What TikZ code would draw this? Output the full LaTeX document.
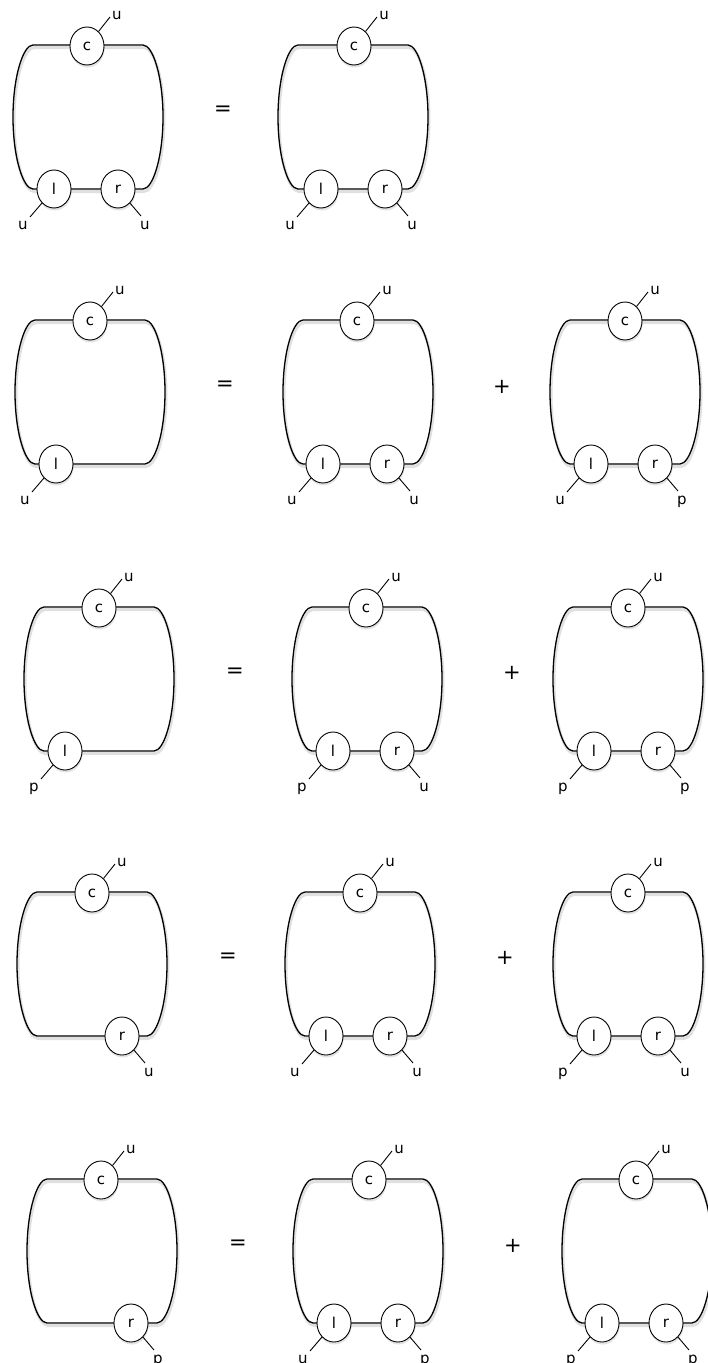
\documentclass[tikz,border=0pt]{standalone}
\usepackage{fontspec}
\setmainfont{DejaVu Sans}
\usetikzlibrary{shapes.geometric,shadows}
\newcommand\lblf{\fontsize{15}{17}\selectfont}
\newcommand\opf{\fontsize{21}{24}\selectfont}
\tikzset{
  vtx/.style={ellipse, draw, fill=white, line width=0.9pt, minimum width=34pt, minimum height=38pt, inner sep=0pt, font=\lblf,
    drop shadow={shadow xshift=0.6pt, shadow yshift=-2.5pt, opacity=0.22}},
  lp/.style={line width=1.3pt, line join=round},
  lpshadow/.style={line width=3pt, black, opacity=0.12},
  stub/.style={line width=0.9pt},
  lab/.style={font=\lblf, inner sep=0pt, anchor=base},
  op/.style={font=\opf, inner sep=0pt},
}
% loop shape: left x, top y
\newcommand\Cyc[2]{%
  \draw[lpshadow, shift={(1,2.5)}] (#1+20,#2) -- (#1+130,#2) .. controls (#1+140,#2) and (#1+150,#2+32) .. (#1+150,#2+72) .. controls (#1+150,#2+112) and (#1+140,#2+144) .. (#1+130,#2+144) -- (#1+20,#2+144) .. controls (#1+10,#2+144) and (#1,#2+112) .. (#1,#2+72) .. controls (#1,#2+32) and (#1+10,#2) .. cycle;
  \draw[lp] (#1+20,#2) -- (#1+130,#2) .. controls (#1+140,#2) and (#1+150,#2+32) .. (#1+150,#2+72) .. controls (#1+150,#2+112) and (#1+140,#2+144) .. (#1+130,#2+144) -- (#1+20,#2+144) .. controls (#1+10,#2+144) and (#1,#2+112) .. (#1,#2+72) .. controls (#1,#2+32) and (#1+10,#2) .. cycle;
}
% top vertex c
\newcommand\Cv[4]{%
  \node[vtx] (#1) at (#2,#3) {c};
  \coordinate (#1e) at (#2+23,#3-29);
  \draw[stub] (#1) -- (#1e);
  \node[lab] (#1t) at (#2+30,#3-26.5) {#4};
}
% bottom-left vertex l
\newcommand\Lv[4]{%
  \node[vtx] (#1) at (#2,#3) {l};
  \coordinate (#1e) at (#2-24,#3+28);
  \draw[stub] (#1) -- (#1e);
  \node[lab] (#1t) at (#2-31,#3+40) {#4};
}
% bottom-right vertex r
\newcommand\Rv[4]{%
  \node[vtx] (#1) at (#2,#3) {r};
  \coordinate (#1e) at (#2+23,#3+27);
  \draw[stub] (#1) -- (#1e);
  \node[lab] (#1t) at (#2+27,#3+40) {#4};
}
\begin{document}
\begin{tikzpicture}[x=1pt,y=-1pt]
\useasboundingbox[fill=white] (0,0) rectangle (707,1363);

% ---------- row 1 ----------
\Cyc{13}{45}
\Cv{aAc}{13+74}{45+1}{u}
\Lv{aAl}{13+41}{45+144}{u}
\Rv{aAr}{13+105}{45+144}{u}
\node[op] (eqA) at (223,111) {=};
\Cyc{278}{45}
\Cv{aBc}{278+76}{45+1}{u}
\Lv{aBl}{278+43}{45+144}{u}
\Rv{aBr}{278+107}{45+144}{u}

% ---------- row 2 ----------
\Cyc{15}{320}
\Cv{bAc}{15+75}{320+1}{u}
\Lv{bAl}{15+41}{320+144}{u}
\node[op] (eqB) at (225,386) {=};
\Cyc{283}{320}
\Cv{bBc}{283+74}{320+1}{u}
\Lv{bBl}{283+40}{320+144}{u}
\Rv{bBr}{283+104}{320+144}{u}
\node[op] (plB) at (502,387) {+};
\Cyc{550}{320}
\Cv{bCc}{550+75}{320+1}{u}
\Lv{bCl}{550+41}{320+144}{u}
\Rv{bCr}{550+105}{320+144}{p}

% ---------- row 3 ----------
\Cyc{24}{607}
\Cv{cAc}{24+75}{607+1}{u}
\Lv{cAl}{24+41}{607+144}{p}
\node[op] (eqC) at (235,673) {=};
\Cyc{292}{607}
\Cv{cBc}{292+74}{607+1}{u}
\Lv{cBl}{292+41}{607+144}{p}
\Rv{cBr}{292+105}{607+144}{u}
\node[op] (plC) at (512,673) {+};
\Cyc{553}{607}
\Cv{cCc}{553+75}{607+1}{u}
\Lv{cCl}{553+41}{607+144}{p}
\Rv{cCr}{553+105}{607+144}{p}

% ---------- row 4 ----------
\Cyc{17}{892}
\Cv{dAc}{17+75}{892+1}{u}
\Rv{dAr}{17+105}{892+144}{u}
\node[op] (eqD) at (228,958) {=};
\Cyc{285}{892}
\Cv{dBc}{285+75}{892+1}{u}
\Lv{dBl}{285+41}{892+144}{u}
\Rv{dBr}{285+105}{892+144}{u}
\node[op] (plD) at (505,958) {+};
\Cyc{553}{892}
\Cv{dCc}{553+75}{892+1}{u}
\Lv{dCl}{553+41}{892+144}{p}
\Rv{dCr}{553+105}{892+144}{u}

% ---------- row 5 ----------
\Cyc{27}{1179}
\Cv{eAc}{27+74}{1179+1}{u}
\Rv{eAr}{27+104}{1179+144}{p}
\node[op] (eqE) at (238,1245) {=};
\Cyc{293}{1179}
\Cv{eBc}{293+76}{1179+1}{u}
\Lv{eBl}{293+41}{1179+144}{u}
\Rv{eBr}{293+105}{1179+144}{p}
\node[op] (plE) at (513,1246) {+};
\Cyc{562}{1179}
\Cv{eCc}{562+74}{1179+1}{u}
\Lv{eCl}{562+40}{1179+144}{p}
\Rv{eCr}{562+104}{1179+144}{p}
\end{tikzpicture}
\end{document}
